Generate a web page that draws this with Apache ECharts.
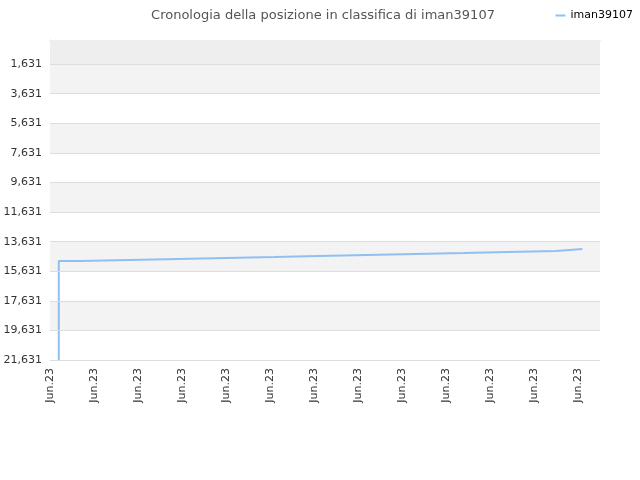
<!DOCTYPE html><html><head><meta charset="utf-8"><script src="https://cdn.jsdelivr.net/npm/echarts@6/dist/echarts.min.js"></script></head><body style="margin:0"><div id="c" style="width:640px;height:480px"></div><script>
const categories = Array(126).fill('Jun.23');
const yTicks = [1631,3631,5631,7631,9631,11631,13631,15631,17631,19631,21631];
const stepIdx = [2,7,18,29,40,51,61,72,83,94,104,115,121];
const stepVal = [21631,14942,14875,14808,14740,14672,14604,14536,14468,14400,14332,14264,14131];
const bands = [[0,1631,'#eeeeee']];
for (let i=0;i<yTicks.length-1;i++){ bands.push([yTicks[i],yTicks[i+1], i%2===0?'#f3f3f3':'#ffffff']); }
const chart = echarts.init(document.getElementById('c'));
chart.setOption({
  animation:false,
  title:{text:'Cronologia della posizione in classifica di iman39107',left:318,top:4,textAlign:'center',textStyle:{fontSize:13,fontWeight:'normal',color:'#555',fontFamily:'DejaVu Sans'}},
  legend:{right:2,top:5,itemWidth:10,itemHeight:2,icon:'rect',textStyle:{fontSize:11,color:'#000',fontFamily:'DejaVu Sans'},data:['iman39107']},
  grid:{left:50,right:40,top:40,bottom:120},
  xAxis:{type:'category',data:categories,boundaryGap:false,
    axisLine:{lineStyle:{color:'#ccc'}},axisTick:{show:false},
    axisLabel:{interval:9,rotate:90,fontSize:11,color:'#333',fontFamily:'DejaVu Sans'},
    splitLine:{show:false}},
  yAxis:{type:'value',inverse:true,min:0,max:21631,
    axisLine:{show:true,lineStyle:{color:'#ccc'}},axisTick:{show:false},splitLine:{show:false},
    axisLabel:{customValues:yTicks,fontSize:11,color:'#333',fontFamily:'DejaVu Sans'}},
  series:[{name:'iman39107',type:'line',step:'start',showSymbol:false,
    lineStyle:{color:'#90c0f0',width:2},itemStyle:{color:'#90c0f0'},
    data:stepIdx.map((x,i)=>[x,stepVal[i]]),
    markArea:{silent:true,data:bands.map(b=>[{yAxis:b[0],itemStyle:{color:b[2]}},{yAxis:b[1]}])},
    markLine:{silent:true,symbol:'none',label:{show:false},lineStyle:{color:'#ddd',type:'solid',width:1},data:yTicks.map(v=>({yAxis:v}))}
  }]
});
</script></body></html>
